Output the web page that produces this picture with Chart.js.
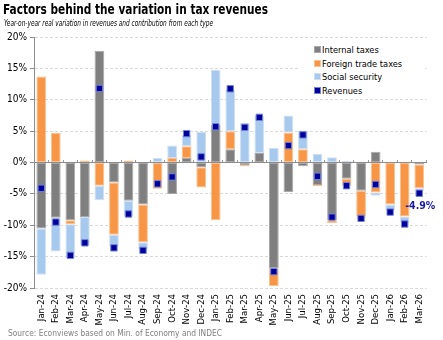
<!DOCTYPE html>
<html>
<head>
<meta charset="utf-8">
<script src="https://cdn.jsdelivr.net/npm/chart.js@4.4.1/dist/chart.umd.min.js"></script>
<style>
  html, body { margin: 0; padding: 0; background: #fff; }
  #wrap { position: relative; width: 443px; height: 340px; overflow: hidden;
          font-family: "DejaVu Sans Condensed", "DejaVu Sans", sans-serif; }
  #chart { position: absolute; left: 0; top: 0; }
  .fit { position: absolute; white-space: nowrap; transform-origin: 0 0; line-height: 1; }
  #title { left: 3px; top: 2px; font-weight: bold; font-size: 14px; color: #000; }
  #subtitle { left: 4px; top: 19px; font-style: italic; font-size: 8.5px; color: #000; }
  #source { left: 8px; top: 329px; font-size: 8.5px; color: #808080; }
  #legend { position: absolute; left: 298px; top: 41px; width: 125px; height: 56px; background: #fff; }
  #legend ul { list-style: none; margin: 2px 0 0 16px; padding: 0; }
  #legend li { height: 13.6px; line-height: 13.6px; font-size: 9.2px; color: #000; display: flex; align-items: center; }
  #legend .sw { width: 7px; height: 7px; box-sizing: border-box; border: 1px solid; margin-right: 1px; }
</style>
</head>
<body>
<div id="wrap">
  <canvas id="chart" width="443" height="340"></canvas>
  <div id="title" class="fit">Factors behind the variation in tax revenues</div>
  <div id="subtitle" class="fit">Year-on-year real variation in revenues and contribution from each type</div>
  <div id="source" class="fit">Source: Econviews based on Min. of Economy and INDEC</div>
  <div id="legend"><ul id="legendList"></ul></div>
</div>
<script>
// Data (% year-on-year, real)
const months = ['Jan-24', 'Feb-24', 'Mar-24', 'Apr-24', 'May-24', 'Jun-24', 'Jul-24', 'Aug-24', 'Sep-24',
    'Oct-24', 'Nov-24', 'Dec-24', 'Jan-25', 'Feb-25', 'Mar-25', 'Apr-25', 'May-25', 'Jun-25',
    'Jul-25', 'Aug-25', 'Sep-25', 'Oct-25', 'Nov-25', 'Dec-25', 'Jan-26', 'Feb-26', 'Mar-26'];

const internalTaxes = [-10.5, -8.8, -9.2, -8.7, 17.8, -3.2, -6.1, -6.7, 0, -5.0, 0.7, -0.75, 6.0, 2.1,
    -0.4, 1.5, -16.9, -4.7, -0.6, -3.6, -9.2, -2.6, -4.5, 1.7, 0, 0, -0.3];

const foreignTrade = [13.7, 4.7, -0.65, 0.3, -3.7, -8.3, 0.3, -6.0, -4.2, 0.7, 1.9, -3.25, -9.2, 2.9,
    -0.2, 0, -2.8, 4.8, 2.1, -0.2, -0.5, -1.1, -4.1, -4.8, -6.7, -8.6, -3.8];

const socialSecurity = [-7.4, -5.4, -5.4, -4.5, -2.3, -1.8, -2.5, -1.2, 0.7, 2.0, 1.8, 4.9, 8.8, 6.6,
    6.3, 6.0, 2.3, 2.7, 3.0, 1.4, 0.85, 0.25, -0.3, -0.5, -0.9, -1.0, -0.4];

const revenues = [-4.1, -9.5, -14.8, -12.8, 11.8, -13.6, -8.2, -14.0, -3.4, -2.3, 4.6, 0.9, 5.7, 11.75,
    5.6, 7.2, -17.4, 2.7, 4.4, -2.2, -8.7, -3.7, -8.9, -3.5, -7.9, -9.8, -4.9];

const yTicks = [-20, -15, -10, -5, 0, 5, 10, 15, 20];

const FONT = '"DejaVu Sans Condensed", "DejaVu Sans", sans-serif';

// Label for the latest revenue value
const lastLabel = {
    id: 'lastLabel',
    afterDatasetsDraw(chart) {
        const meta = chart.getDatasetMeta(3);
        const i = revenues.length - 1;
        const pt = meta.data[i];
        const ctx = chart.ctx;
        ctx.save();
        ctx.font = 'bold 10.5px ' + FONT;
        ctx.fillStyle = '#1a1aa0';
        ctx.textAlign = 'center';
        ctx.textBaseline = 'middle';
        ctx.fillText(revenues[i].toFixed(1) + '%', pt.x + 1, pt.y + 13);
        ctx.restore();
    }
};

const chart = new Chart(document.getElementById('chart'), {
    type: 'bar',
    data: {
        labels: months,
        datasets: [
            { label: 'Internal taxes', data: internalTaxes, backgroundColor: '#7f7f7f', borderColor: '#a8a8a8',
              borderWidth: 1, borderSkipped: false, order: 1 },
            { label: 'Foreign trade taxes', data: foreignTrade, backgroundColor: '#f79646', borderColor: '#fbc08f',
              borderWidth: 1, borderSkipped: false, order: 1 },
            { label: 'Social security', data: socialSecurity, backgroundColor: '#a7c9ed', borderColor: '#cfe0f5',
              borderWidth: 1, borderSkipped: false, order: 1 },
            { type: 'line', label: 'Revenues', data: revenues, stack: 'rev', showLine: false,
              pointStyle: 'rect', pointRadius: 4.5, pointHoverRadius: 4.5,
              pointBackgroundColor: '#00009c', pointBorderColor: '#7383d4', pointBorderWidth: 1, order: 0 }
        ]
    },
    options: {
        responsive: false,
        animation: false,
        devicePixelRatio: 1,
        layout: { padding: { top: 37, right: 16.5, bottom: 0, left: 0 } },
        datasets: { bar: { barPercentage: 0.67, categoryPercentage: 1 } },
        plugins: { legend: { display: false }, tooltip: { enabled: false } },
        scales: {
            x: {
                stacked: true,
                offset: true,
                grid: { display: false, drawTicks: false },
                border: { display: false },
                ticks: { autoSkip: false, maxRotation: 90, minRotation: 90, padding: 6, color: '#000',
                         font: { family: FONT, size: 9.5 } },
                afterFit(s) { s.height = 52; }
            },
            x2: {
                type: 'category',
                labels: months,
                position: { y: 0 },
                offset: true,
                grid: { offset: true, drawOnChartArea: false, drawTicks: true, tickLength: -3,
                        tickColor: '#9a9a9a' },
                border: { display: true, color: '#8c8c8c', width: 1 },
                ticks: { display: false }
            },
            y: {
                stacked: true,
                min: -20,
                max: 20,
                afterBuildTicks(s) { s.ticks = yTicks.map(v => ({ value: v })); },
                grid: { color: '#d9d9d9', tickColor: '#8c8c8c', tickLength: 4 },
                border: { display: true, color: '#8c8c8c', dash: [3, 2] },
                ticks: { padding: 3, color: '#000', font: { family: FONT, size: 10 },
                         callback: v => v + '%' },
                afterFit(s) { s.width = 34; }
            }
        }
    },
    plugins: [lastLabel]
});

// HTML legend built from the datasets
const list = document.getElementById('legendList');
chart.data.datasets.forEach(ds => {
    const li = document.createElement('li');
    const sw = document.createElement('span');
    sw.className = 'sw';
    sw.style.background = ds.backgroundColor || ds.pointBackgroundColor;
    sw.style.borderColor = ds.borderColor || ds.pointBorderColor;
    li.appendChild(sw);
    li.appendChild(document.createTextNode(ds.label));
    list.appendChild(li);
});

// Squeeze header/footer texts to the widths seen in the reference
function fitWidth(id, target) {
    const el = document.getElementById(id);
    const w = el.getBoundingClientRect().width;
    el.style.transform = 'scaleX(' + (target / w) + ')';
}
fitWidth('title', 265);
fitWidth('subtitle', 209);
fitWidth('source', 214);
</script>
</body>
</html>
